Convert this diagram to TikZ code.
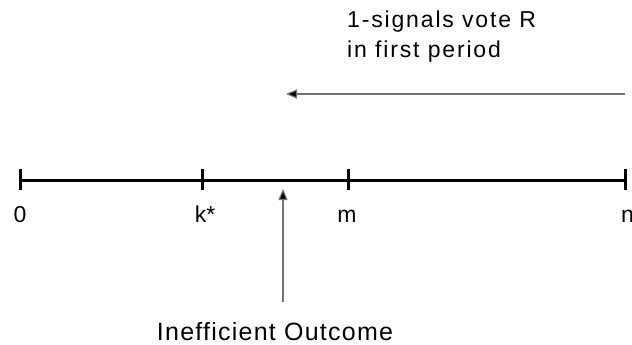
\documentclass[tikz,border=0pt]{standalone}
\usepackage{fontspec}
\setmainfont{Liberation Sans}
\newfontfamily\topfont[LetterSpace=8]{Liberation Sans}
\newfontfamily\botfont[LetterSpace=5]{Liberation Sans}
\usetikzlibrary{arrows.meta}
\tikzset{
  axis/.style={line width=3pt, black},
  tickmark/.style={line width=3pt, black},
  lab/.style={font=\fontsize{23}{27}\selectfont, inner sep=0pt},
  pointer/.style={draw=black!55, line width=1.1pt, -{Triangle[length=11pt,width=9pt,fill=black]}},
}
\begin{document}
\begin{tikzpicture}[x=1pt,y=-1pt]
\useasboundingbox (0,0) rectangle (632,345);
\coordinate (t0) at (20,180);
\coordinate (tk) at (202,180);
\coordinate (tm) at (348,180);
\coordinate (tn) at (625,180);
\draw[axis] (t0) -- (tn);
\foreach \p in {t0,tk,tm,tn} \draw[tickmark] ([yshift=-10pt]\p) -- ([yshift=11pt]\p);
\node[lab, anchor=base] (l0) at (20,222) {0};
\node[lab, anchor=base] (lk) at (205,222) {k*};
\node[lab, anchor=base] (lm) at (347,222) {m};
\node[lab, anchor=base west] (ln) at (621,222) {n};
\coordinate (vb) at (283,302);
\coordinate (vt) at (283,189);
\draw[pointer] (vb) -- (vt);
\coordinate (hr) at (625,94);
\coordinate (hl) at (286,94);
\draw[pointer] (hr) -- (hl);
\node[lab, font=\topfont\fontsize{23}{27}\selectfont, anchor=base west] (a1) at (347,28) {1-signals vote R};
\node[lab, font=\topfont\fontsize{23}{27}\selectfont, anchor=base west] (a2) at (347,58) {in first period};
\node[lab, font=\botfont\fontsize{25}{29}\selectfont, anchor=base] (b1) at (275,340) {Inefficient Outcome};
\end{tikzpicture}
\end{document}
